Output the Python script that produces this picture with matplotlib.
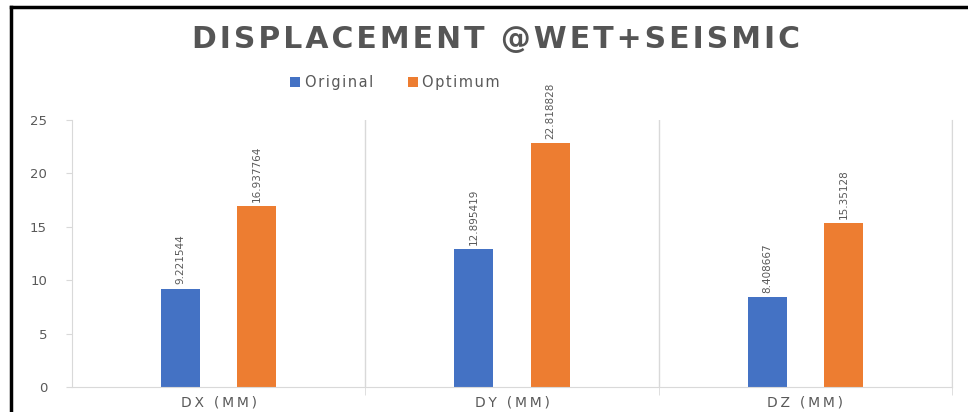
import numpy as np
import matplotlib.pyplot as plt

categories = ['DX (MM)', 'DY (MM)', 'DZ (MM)']
original = [9.221544, 12.895419, 8.408667]
optimum = [16.937764, 22.818828, 15.35128]
original_labels = ['9.221544', '12.895419', '8.408667']
optimum_labels = ['16.937764', '22.818828', '15.35128']
title = 'DISPLACEMENT @WET+SEISMIC'


def spaced(s, sep='\u200a'):
    # letter spacing like the Excel chart text
    return sep.join(s)


fig = plt.figure(figsize=(9.68, 4.12), dpi=100)
ax = fig.add_axes([0.0744, 0.0607, 0.9091, 0.648])

x = np.arange(len(categories))
w = 0.133
off = 0.13
b1 = ax.bar(x - off, original, w, color='#4472C4', label=spaced('Original'))
b2 = ax.bar(x + off, optimum, w, color='#ED7D31', label=spaced('Optimum'))

for bars, labs in [(b1, original_labels), (b2, optimum_labels)]:
    for b, t in zip(bars, labs):
        ax.annotate(t, (b.get_x() + b.get_width() / 2, b.get_height()),
                    xytext=(0, 3), textcoords='offset points',
                    rotation=90, ha='center', va='bottom',
                    fontsize=7.5, color='#595959')

ax.set_xlim(-0.5, 2.5)
ax.set_ylim(0, 25)
ax.set_yticks([0, 5, 10, 15, 20, 25])
ax.set_xticks(x)
ax.set_xticklabels([spaced(c, '\u2009') for c in categories])
ax.set_xticks([0.5, 1.5, 2.5], minor=True)
ax.tick_params(axis='x', which='major', length=0, pad=6, labelsize=10, labelcolor='#595959')
ax.tick_params(axis='x', which='minor', length=6, color='#D9D9D9')
ax.tick_params(axis='y', length=4, color='#D9D9D9', labelsize=9.5, labelcolor='#595959', pad=14)
ax.grid(axis='x', which='minor', color='#D9D9D9', lw=1)
ax.set_axisbelow(True)
ax.spines['top'].set_visible(False)
for s in ['left', 'bottom', 'right']:
    ax.spines[s].set_color('#D9D9D9')

fig.text(0.512, 0.905, spaced(title), ha='center', va='center',
         fontsize=21.5, fontweight='bold', color='#555555')
fig.legend(loc='center', bbox_to_anchor=(0.408, 0.8), ncol=2, frameon=False,
           fontsize=10.5, handlelength=0.7, handleheight=0.7, columnspacing=2.4,
           handletextpad=0.3, labelcolor='#595959')

# frame edges of the cropped picture
fig.add_artist(plt.Line2D([0.0114, 0.0114], [0, 0.983], color='black', lw=2.5))
fig.add_artist(plt.Line2D([0.0114, 1], [0.983, 0.983], color='black', lw=2.5))

fig.savefig('out.png', dpi=100)
